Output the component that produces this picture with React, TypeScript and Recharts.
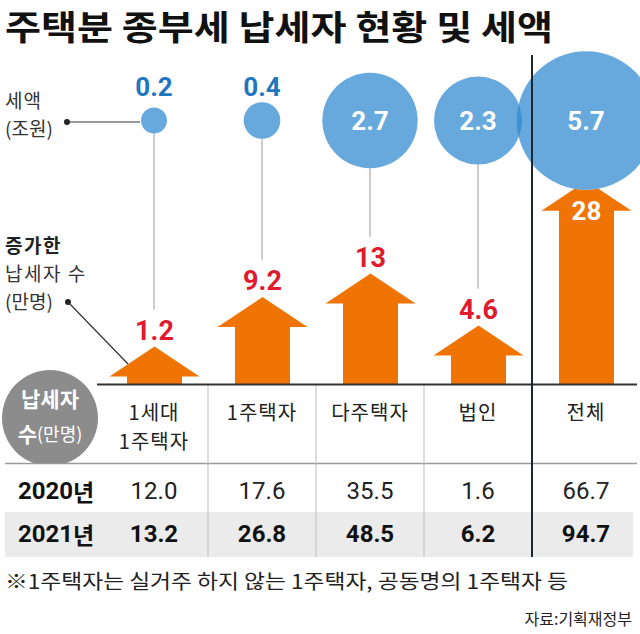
import React from 'react';
import { ComposedChart, Bar, Scatter, XAxis, YAxis, ZAxis } from 'recharts';

// ---------- data ----------
const categories = ['1세대 1주택자', '1주택자', '다주택자', '법인', '전체'];
const headerLines = [['1세대', '1주택자'], ['1주택자'], ['다주택자'], ['법인'], ['전체']];
const taxAmount = [0.2, 0.4, 2.7, 2.3, 5.7]; // 세액 (조원)
const increase = [1.2, 9.2, 13, 4.6, 28]; // 증가한 납세자 수 (만명)
const payers2020 = [12.0, 17.6, 35.5, 1.6, 66.7]; // 2020년 납세자 수 (만명)
const payers2021 = [13.2, 26.8, 48.5, 6.2, 94.7]; // 2021년 납세자 수 (만명)
const rowLabels = ['2020', '2021'];

// ---------- layout ----------
const W = 640;
const H = 634;
const PLOT_LEFT = 100;
const PLOT_TOP = 50;
const AXIS_H = 250;
const Y_MAX = 54;
const BASE_Y = H - AXIS_H; // 384
const BAND = (W - PLOT_LEFT) / categories.length;
const BUBBLE_LEVEL = 42.6; // y-level (in arrow units) of the bubble row
const STEM_GAP = 10.8; // room for arrow head + label, in arrow units
const HEAD_H = 30;
const HEAD_HALF = 45;
const SHAFT_W = 55;
const BUBBLE_K = Math.PI * 29 * 29; // px² per 조원
const TOTAL_NAME = '전체';

const ORANGE = '#EF7403';
const RED = '#E01A2F';
const BLUE_TXT = '#1F77C0';
const BUBBLE = '#2D88CF';
const FONT_KR = "'Noto Sans CJK KR', 'Noto Sans', sans-serif";
const FONT_NUM = "Roboto, 'Noto Sans CJK KR', sans-serif";

const fmtInc = (v: number) => (Number.isInteger(v) ? String(v) : v.toFixed(1));

const chartData = categories.map((name, i) => ({
  name,
  tax: taxAmount[i],
  inc: increase[i],
  level: BUBBLE_LEVEL,
  stem: name === TOTAL_NAME ? null : [increase[i] + STEM_GAP, BUBBLE_LEVEL],
}));

const taxMin = Math.min(...taxAmount);
const taxMax = Math.max(...taxAmount);

// ---------- shapes ----------
const radiusOf = (p: any) =>
  p.size != null ? Math.sqrt(Math.max(p.size, 0) / Math.PI) : (p.width || 0) / 2;

const WhiteBase = (p: any) => <circle cx={p.cx} cy={p.cy} r={radiusOf(p)} fill="#fff" />;

const BubbleShape = (p: any) => {
  const r = radiusOf(p);
  const v = p.payload?.tax ?? p.node?.z;
  const inside = r > 30;
  return (
    <g>
      <circle cx={p.cx} cy={p.cy} r={r} fill={BUBBLE} fillOpacity={0.72} />
      <text
        x={p.cx}
        y={inside ? p.cy : p.cy - 34}
        textAnchor="middle"
        dominantBaseline="central"
        fill={inside ? '#fff' : BLUE_TXT}
        fontFamily={FONT_NUM}
        fontWeight={700}
        fontSize={26}
      >
        {Number(v).toFixed(1)}
      </text>
    </g>
  );
};

const StemShape = (p: any) => {
  if (!p.height) return null;
  const cx = p.x + p.width / 2;
  return <line x1={cx} x2={cx} y1={p.y} y2={p.y + p.height} stroke="#BDBDBD" strokeWidth={1.5} />;
};

const ArrowShape = (p: any) => {
  const { x, y, width, height } = p;
  const cx = x + width / 2;
  const base = y + height;
  const isTotal = p.payload?.name === TOTAL_NAME;
  const pts = [
    [x, base],
    [x, y],
    [cx - HEAD_HALF, y],
    [cx, y - HEAD_H],
    [cx + HEAD_HALF, y],
    [x + width, y],
    [x + width, base],
  ]
    .map((q) => q.join(','))
    .join(' ');
  return (
    <g>
      <polygon points={pts} fill={ORANGE} />
      <text
        x={cx}
        y={isTotal ? y : y - HEAD_H - 16}
        textAnchor="middle"
        dominantBaseline="central"
        fill={isTotal ? '#fff' : RED}
        fontFamily={FONT_NUM}
        fontWeight={700}
        fontSize={isTotal ? 26 : 27}
      >
        {fmtInc(p.payload?.inc ?? p.value)}
      </text>
    </g>
  );
};

const TableTick = (p: any) => {
  const { x, payload } = p;
  const i = categories.indexOf(payload.value);
  if (i < 0) return null;
  const top = BASE_Y;
  return (
    <g>
      {headerLines[i].map((l, k) => (
        <text
          key={k}
          x={x}
          y={top + 27 + k * 29}
          textAnchor="middle"
          dominantBaseline="central"
          fill="#222"
          fontFamily={FONT_KR}
          fontSize={20}
          letterSpacing={1}
        >
          {l}
        </text>
      ))}
      <text x={x} y={top + 107} textAnchor="middle" dominantBaseline="central" fill="#222" fontFamily={FONT_NUM} fontSize={24}>
        {payers2020[i].toFixed(1)}
      </text>
      <text x={x} y={top + 150} textAnchor="middle" dominantBaseline="central" fill="#111" fontFamily={FONT_NUM} fontWeight={700} fontSize={24}>
        {payers2021[i].toFixed(1)}
      </text>
    </g>
  );
};

// ---------- static layers ----------
const Background = () => {
  const dividers = [1, 2, 3].map((k) => PLOT_LEFT + BAND * k);
  return (
    <svg width={W} height={H} style={{ position: 'absolute', left: 0, top: 0 }}>
      <defs>
        <clipPath id="circClip">
          <rect x={0} y={0} width={120} height={463} />
        </clipPath>
      </defs>
      <text x={5} y={25} dominantBaseline="central" fontFamily={FONT_KR} fontWeight={700} fontSize={34} fill="#111" textLength={548} lengthAdjust="spacingAndGlyphs">
        주택분 종부세 납세자 현황 및 세액
      </text>

      <text x={5} y={99} dominantBaseline="central" fontFamily={FONT_KR} fontSize={19} fill="#333" letterSpacing={1}>세액</text>
      <text x={5} y={127} dominantBaseline="central" fontFamily={FONT_KR} fontSize={19} fill="#333">(조원)</text>
      <text x={5} y={244} dominantBaseline="central" fontFamily={FONT_KR} fontWeight={700} fontSize={19} fill="#222" letterSpacing={1.5}>증가한</text>
      <text x={5} y={272} dominantBaseline="central" fontFamily={FONT_KR} fontSize={19} fill="#333" letterSpacing={1.5}>납세자 수</text>
      <text x={5} y={300} dominantBaseline="central" fontFamily={FONT_KR} fontSize={19} fill="#333">(만명)</text>

      <rect x={5} y={512} width={628} height={45} fill="#EBEBEB" />
      <line x1={5} x2={637} y1={463.5} y2={463.5} stroke="#9A9A9A" strokeWidth={1.5} />
      {dividers.map((dx) => (
        <line key={dx} x1={dx} x2={dx} y1={BASE_Y} y2={557} stroke="#BDBDBD" strokeWidth={1} />
      ))}

      <circle cx={50} cy={418} r={48} fill="#8C8C8C" clipPath="url(#circClip)" />
      <text x={50} y={398} textAnchor="middle" dominantBaseline="central" fontFamily={FONT_KR} fontWeight={700} fontSize={21} fill="#fff">납세자</text>
      <text x={50} y={433} textAnchor="middle" dominantBaseline="central" fontFamily={FONT_KR} fill="#fff">
        <tspan fontWeight={700} fontSize={21}>수</tspan>
        <tspan fontSize={18}>(만명)</tspan>
      </text>

      {rowLabels.map((yr, k) => (
        <text key={yr} x={18} y={491 + k * 43} dominantBaseline="central" fill="#111" fontWeight={700}>
          <tspan fontFamily={FONT_NUM} fontSize={24}>{yr}</tspan>
          <tspan fontFamily={FONT_KR} fontSize={23}>년</tspan>
        </text>
      ))}

      <text x={5} y={580} dominantBaseline="central" fontFamily={FONT_KR} fontSize={20} fill="#222" textLength={563} lengthAdjust="spacingAndGlyphs">
        ※1주택자는 실거주 하지 않는 1주택자, 공동명의 1주택자 등
      </text>
      <text x={632} y={618} textAnchor="end" dominantBaseline="central" fontFamily={FONT_KR} fontSize={16} fill="#222">
        자료:기획재정부
      </text>
    </svg>
  );
};

const Overlay = () => (
  <svg width={W} height={H} style={{ position: 'absolute', left: 0, top: 0, pointerEvents: 'none' }}>
    <line x1={97} x2={637} y1={BASE_Y + 0.5} y2={BASE_Y + 0.5} stroke="#333" strokeWidth={2} />
    <line x1={PLOT_LEFT + BAND * 4} x2={PLOT_LEFT + BAND * 4} y1={55} y2={557} stroke="#1E2630" strokeWidth={2} />
    <circle cx={67} cy={122} r={3} fill="#222" />
    <line x1={67} x2={140} y1={122} y2={122} stroke="#333" strokeWidth={1.2} />
    <circle cx={68} cy={302} r={3} fill="#222" />
    <line x1={68} x2={128} y1={302} y2={364} stroke="#333" strokeWidth={1.2} />
  </svg>
);

export default function App() {
  return (
    <div style={{ position: 'absolute', left: 0, top: 0, width: W, height: H, background: '#fff', overflow: 'hidden' }}>
      <Background />
      <div style={{ position: 'absolute', left: 0, top: 0 }}>
        <ComposedChart width={W} height={H} data={chartData} margin={{ top: PLOT_TOP, right: 0, left: PLOT_LEFT, bottom: 0 }}>
          <XAxis
            xAxisId="a"
            dataKey="name"
            type="category"
            height={AXIS_H}
            axisLine={false}
            tickLine={false}
            tickSize={0}
            interval={0}
            tick={<TableTick />}
          />
          <XAxis xAxisId="s" dataKey="name" type="category" hide />
          <YAxis yAxisId="y" domain={[0, Y_MAX]} hide width={0} />
          <ZAxis zAxisId="z" dataKey="tax" domain={[taxMin, taxMax]} range={[BUBBLE_K * taxMin, BUBBLE_K * taxMax]} />
          <Bar xAxisId="s" yAxisId="y" dataKey="stem" barSize={2} shape={<StemShape />} isAnimationActive={false} />
          <Scatter xAxisId="a" yAxisId="y" zAxisId="z" dataKey="level" shape={<WhiteBase />} isAnimationActive={false} />
          <Scatter xAxisId="a" yAxisId="y" zAxisId="z" dataKey="level" shape={<BubbleShape />} isAnimationActive={false} />
          <Bar xAxisId="a" yAxisId="y" dataKey="inc" barSize={SHAFT_W} shape={<ArrowShape />} isAnimationActive={false} />
        </ComposedChart>
      </div>
      <Overlay />
    </div>
  );
}
